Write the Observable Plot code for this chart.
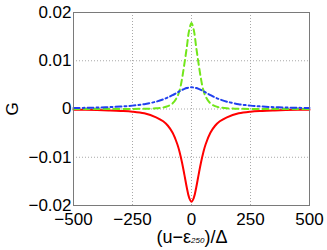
<!DOCTYPE html>
<html>
<head>
<meta charset="utf-8">
<script src="https://cdn.jsdelivr.net/npm/d3@7"></script>
<script src="https://cdn.jsdelivr.net/npm/@observablehq/plot@0.6"></script>
<style>
  html, body { margin: 0; padding: 0; background: white; }
  svg { display: block; }
</style>
</head>
<body>
<div id="chart"></div>
<script>
const xs = [-500,-450,-400,-350,-300,-250,-200,-150,-120,-100,-80,-60,-50,-40,-30,-20,-10,0,10,20,30,40,50,60,80,100,120,150,200,250,300,350,400,450,500];
const redG = [-0.00014,-0.00018,-0.00022,-0.0003,-0.0004,-0.00055,-0.0009,-0.00172,-0.00255,-0.00347,-0.00493,-0.0073,-0.00901,-0.01113,-0.01364,-0.01626,-0.01837,-0.0192,-0.01837,-0.01626,-0.01364,-0.01113,-0.00901,-0.0073,-0.00493,-0.00347,-0.00255,-0.00172,-0.0009,-0.00055,-0.0004,-0.0003,-0.00022,-0.00018,-0.00014];
const greenG = [0,0,0,0.00001,0.00001,0.00002,0.00005,0.00014,0.00032,0.00058,0.00117,0.00257,0.00392,0.0063,0.0094,0.01276,0.01629,0.0178,0.01629,0.01276,0.0094,0.0063,0.00392,0.00257,0.00117,0.00058,0.00032,0.00014,0.00005,0.00002,0.00001,0.00001,0,0,0];
const blueG = [0.0002,0.00024,0.0003,0.00038,0.00051,0.0007,0.001,0.00152,0.00199,0.0024,0.00289,0.00342,0.00369,0.00395,0.00417,0.00435,0.00446,0.0045,0.00446,0.00435,0.00417,0.00395,0.00369,0.00342,0.00289,0.0024,0.00199,0.00152,0.001,0.0007,0.00051,0.00038,0.0003,0.00024,0.0002];
const xTicks = [-500,-250,0,250,500];
const yTicks = [-0.02,-0.01,0,0.01,0.02];
const yLabel = "G";

const toRows = ys => xs.map((x, i) => ({x, y: ys[i]}));
const font = "'Liberation Sans', Arial, Helvetica, sans-serif";

const chart = Plot.plot({
  width: 327,
  height: 250,
  marginLeft: 73,
  marginRight: 18,
  marginTop: 12,
  marginBottom: 45,
  style: {fontFamily: font, fontSize: "17px", background: "white", color: "black"},
  x: {domain: [-500, 500]},
  y: {domain: [-0.02, 0.02]},
  marks: [
    Plot.gridX(xTicks, {stroke: "#a8a8a8", strokeOpacity: 1, strokeDasharray: "1,2"}),
    Plot.gridY(yTicks, {stroke: "#a8a8a8", strokeOpacity: 1, strokeDasharray: "1,2"}),
    Plot.line(toRows(redG), {x: "x", y: "y", stroke: "#ff0000", strokeWidth: 2, curve: "catmull-rom"}),
    Plot.line(toRows(greenG), {x: "x", y: "y", stroke: "#72e61a", strokeWidth: 2, strokeDasharray: "6,4", curve: "catmull-rom"}),
    Plot.line(toRows(blueG), {x: "x", y: "y", stroke: "#2040ee", strokeWidth: 2, strokeDasharray: "6,3,2,3", curve: "catmull-rom"}),
    Plot.frame({stroke: "#7a7a7a", strokeWidth: 1}),
    Plot.axisX({ticks: xTicks, tickSize: 0, tickPadding: 7, tickFormat: d3.format("d"), label: null, fontSize: 17}),
    Plot.axisY({ticks: yTicks, tickSize: 0, tickPadding: 2, tickFormat: d => d === 0 ? "0" : d3.format(".2f")(d), label: null, fontSize: 17}),
    Plot.text([yLabel], {frameAnchor: "left", text: d => d, rotate: -90, dx: -61, textAnchor: "middle", fontSize: 17})
  ]
});

document.getElementById("chart").appendChild(chart);

// x axis title with subscript, positioned from the x scale
const xs0 = chart.scale("x").apply(0);
const t = d3.select(chart).append("text")
  .attr("x", xs0 + 1)
  .attr("y", 242.5)
  .attr("text-anchor", "middle")
  .attr("font-family", font)
  .attr("font-size", 18)
  .attr("fill", "black");
t.append("tspan").text("(u\u2212\u03b5");
t.append("tspan").attr("font-size", 8).attr("font-style", "italic").text("250");
t.append("tspan").text(")/\u0394");
</script>
</body>
</html>
